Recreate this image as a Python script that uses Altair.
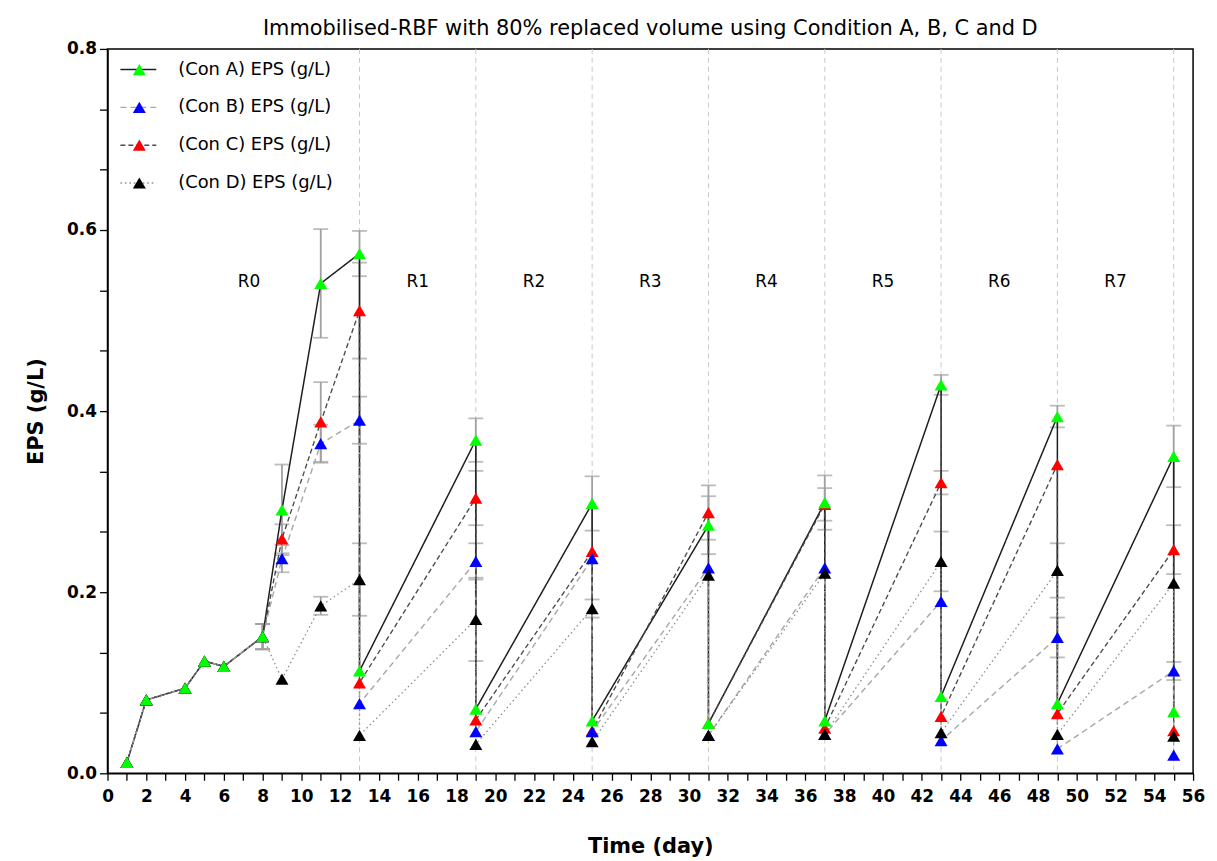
import altair as alt
import pandas as pd

# ---------------- data ----------------
series = ["(Con A) EPS (g/L)", "(Con B) EPS (g/L)", "(Con C) EPS (g/L)", "(Con D) EPS (g/L)"]
marker_keys = ["A", "B", "C", "D"]

common_days = [1, 2, 4, 5, 6, 8]
common_vals = [0.012, 0.081, 0.094, 0.124, 0.118, 0.151]
common_err = [0, 0, 0, 0, 0, 0.014]

growth_days = [9, 11]
cycle_days = [13, 19, 25, 31, 37, 43, 49, 55]

a_growth = [0.291, 0.541]
a_growth_err = [0.05, 0.06]
a_high = [0.574, 0.368, 0.298, 0.274, 0.299, 0.429, 0.394, 0.350]
a_high_err = [0.025, 0.024, 0.030, 0.032, 0.030, 0.011, 0.012, 0.034]
a_low = [0.113, 0.071, 0.058, 0.055, 0.058, 0.085, 0.077, 0.068]

b_growth = [0.237, 0.364]
b_growth_err = [0.015, 0.021]
b_high = [0.390, 0.234, 0.237, 0.227, 0.227, 0.190, 0.150, 0.113]
b_high_err = [0.026, 0.020, 0.0, 0.0, 0.0, 0.0, 0.022, 0.010]
b_low = [0.077, 0.046, 0.046, 0.042, 0.043, 0.036, 0.027, 0.020]

c_growth = [0.259, 0.388]
c_growth_err = [0.016, 0.044]
c_high = [0.511, 0.304, 0.245, 0.288, 0.297, 0.321, 0.341, 0.247]
c_high_err = [0.053, 0.030, 0.0, 0.030, 0.018, 0.013, 0.0, 0.027]
c_low = [0.100, 0.059, 0.047, 0.055, 0.050, 0.063, 0.066, 0.047]

d_growth = [0.104, 0.185]
d_growth_err = [0.0, 0.010]
d_high = [0.214, 0.170, 0.182, 0.219, 0.221, 0.234, 0.224, 0.210]
d_high_err = [0.040, 0.046, 0.010, 0.0, 0.0, 0.033, 0.030, 0.0]
d_low = [0.042, 0.032, 0.035, 0.042, 0.043, 0.045, 0.043, 0.041]

run_labels = ["R0", "R1", "R2", "R3", "R4", "R5", "R6", "R7"]
run_label_days = [7.3, 16, 22, 28, 34, 40, 46, 52]
run_label_value = [0.543] * 8

x_tick_values = list(range(0, 57))
y_tick_values = [0.0, 0.0667, 0.1333, 0.2, 0.2667, 0.3333, 0.4, 0.4667, 0.5333, 0.6,
                 0.6667, 0.7333, 0.8]

point_colors = ["#00ff00", "#0000ff", "#ff0000", "#000000"]
line_colors = ["#1e1e1e", "#a8a8a8", "#4a4a4a", "#8c8c8c"]
line_dashes = [[1, 0], [6, 4], [5, 3], [1.5, 3]]
line_widths = [1.5, 1.3, 1.3, 1.3]

# ---------------- build the table ----------------
rows = []
sets = [
    (a_growth, a_growth_err, a_high, a_high_err, a_low),
    (b_growth, b_growth_err, b_high, b_high_err, b_low),
    (c_growth, c_growth_err, c_high, c_high_err, c_low),
    (d_growth, d_growth_err, d_high, d_high_err, d_low),
]
for s, mk, (g, ge, hi, he, lo) in zip(series, marker_keys, sets):
    seq = 0
    for d, v, e in zip(common_days, common_vals, common_err):
        rows.append(dict(series=s, marker=mk, day=d, value=v, err=e, seq=seq)); seq += 1
    for d, v, e in zip(growth_days, g, ge):
        rows.append(dict(series=s, marker=mk, day=d, value=v, err=e, seq=seq)); seq += 1
    for d, h, e, l in zip(cycle_days, hi, he, lo):
        rows.append(dict(series=s, marker=mk, day=d, value=h, err=e, seq=seq)); seq += 1
        rows.append(dict(series=s, marker=mk, day=d, value=l, err=0.0, seq=seq)); seq += 1

df = pd.DataFrame(rows)
df["lo"] = df["value"] - df["err"]
df["hi"] = df["value"] + df["err"]

err_df = df[df["err"] > 0]
caps_df = pd.concat([
    err_df[["series", "day"]].assign(cap=err_df["lo"]),
    err_df[["series", "day"]].assign(cap=err_df["hi"]),
])

draw_rank = {"C": 0, "B": 1, "D": 2, "A": 3}
pts_df = df.assign(rank=df["marker"].map(draw_rank)).sort_values(["rank", "seq"], kind="stable")

cyc_df = pd.DataFrame({"day": cycle_days})
lab_df = pd.DataFrame({"label": run_labels, "day": run_label_days, "value": run_label_value})

# ---------------- scales & axes ----------------
FONT = "DejaVu Sans"
xs = alt.Scale(domain=[0, 56], nice=False, zero=False)
ys = alt.Scale(domain=[0, 0.8], nice=False)

xaxis = alt.Axis(
    values=x_tick_values,
    labelExpr="datum.value % 2 == 0 ? datum.label : ''",
    grid=False, tickSize=7, tickWidth=1.3, tickColor="black",
    domainColor="black", domainWidth=1.5,
    labelFont=FONT, labelFontSize=17, labelFontWeight="bold", labelColor="black",
    labelPadding=8, labelFlush=False, labelOverlap=False,
    titleFont=FONT, titleFontSize=21, titleFontWeight="bold", titleColor="black",
    titlePadding=32,
)
yaxis = alt.Axis(
    values=y_tick_values,
    labelExpr="abs(datum.value*5 - round(datum.value*5)) < 0.001 ? format(datum.value, '.1f') : ''",
    grid=False, tickSize=8, tickWidth=1.3, tickColor="black",
    domainColor="black", domainWidth=1.5,
    labelFont=FONT, labelFontSize=17, labelFontWeight="bold", labelColor="black",
    labelPadding=3, labelFlush=False, labelOverlap=False,
    titleFont=FONT, titleFontSize=21, titleFontWeight="bold", titleColor="black",
    titlePadding=20,
)


def X(field):
    return alt.X(field, type="quantitative", scale=xs, axis=xaxis, title="Time (day)")


def Y(field):
    return alt.Y(field, type="quantitative", scale=ys, axis=yaxis, title="EPS (g/L)")


# ---------------- layers ----------------
vlines = alt.Chart(cyc_df).mark_rule(color="#c8c8c8", strokeDash=[5, 4], strokeWidth=1).encode(
    x=X("day")
)

err_rules = alt.Chart(err_df).mark_rule(color="#a0a0a0", strokeWidth=1.8).encode(
    x=X("day"), y=Y("lo"), y2="hi"
)
err_caps = alt.Chart(caps_df).mark_tick(
    color="#a0a0a0", orient="horizontal", size=15, thickness=1.8
).encode(x=X("day"), y=Y("cap"))

line_legend = alt.Legend(
    orient="none", legendX=12, legendY=3, title=None,
    symbolType="stroke", symbolSize=1300, symbolStrokeWidth=1.3,
    labelFont=FONT, labelFontSize=18, labelColor="black", labelOffset=21,
    clipHeight=35.5, rowPadding=2, padding=0,
)
lines = alt.Chart(df).mark_line().encode(
    x=X("day"), y=Y("value"),
    order=alt.Order("seq:Q"),
    stroke=alt.Stroke("series:N", scale=alt.Scale(domain=series, range=line_colors), legend=line_legend),
    strokeDash=alt.StrokeDash("series:N", scale=alt.Scale(domain=series, range=line_dashes), legend=line_legend),
    strokeWidth=alt.StrokeWidth("series:N", scale=alt.Scale(domain=series, range=line_widths), legend=None),
)

tri_legend = alt.Legend(
    orient="none", legendX=23, legendY=3, title=None,
    symbolType="triangle-up", symbolSize=170, symbolStrokeWidth=0,
    labelFont=FONT, labelFontSize=18, labelExpr="''",
    clipHeight=35.5, rowPadding=2, padding=0,
)
points = alt.Chart(pts_df).mark_point(shape="triangle-up", size=170, filled=True, opacity=1).encode(
    x=X("day"), y=Y("value"),
    fill=alt.Fill("marker:N", scale=alt.Scale(domain=marker_keys, range=point_colors), legend=tri_legend),
)

labels = alt.Chart(lab_df).mark_text(font=FONT, fontSize=17, color="black", baseline="middle").encode(
    x=X("day"), y=Y("value"), text="label:N"
)

chart = alt.layer(vlines, err_rules, err_caps, lines, labels, points).properties(
    width=1091, height=728,
    title=alt.TitleParams(
        "Immobilised-RBF with 80% replaced volume using Condition A, B, C and D",
        font=FONT, fontSize=21, fontWeight="normal", color="black", anchor="middle", offset=1,
    ),
    autosize=alt.AutoSizeParams(type="none"),
    padding={"left": 100, "top": 39, "right": 16, "bottom": 86},
).configure_view(stroke="black", strokeWidth=1.5)

chart.save("out.html", embed_options={"renderer": "svg", "actions": False})
